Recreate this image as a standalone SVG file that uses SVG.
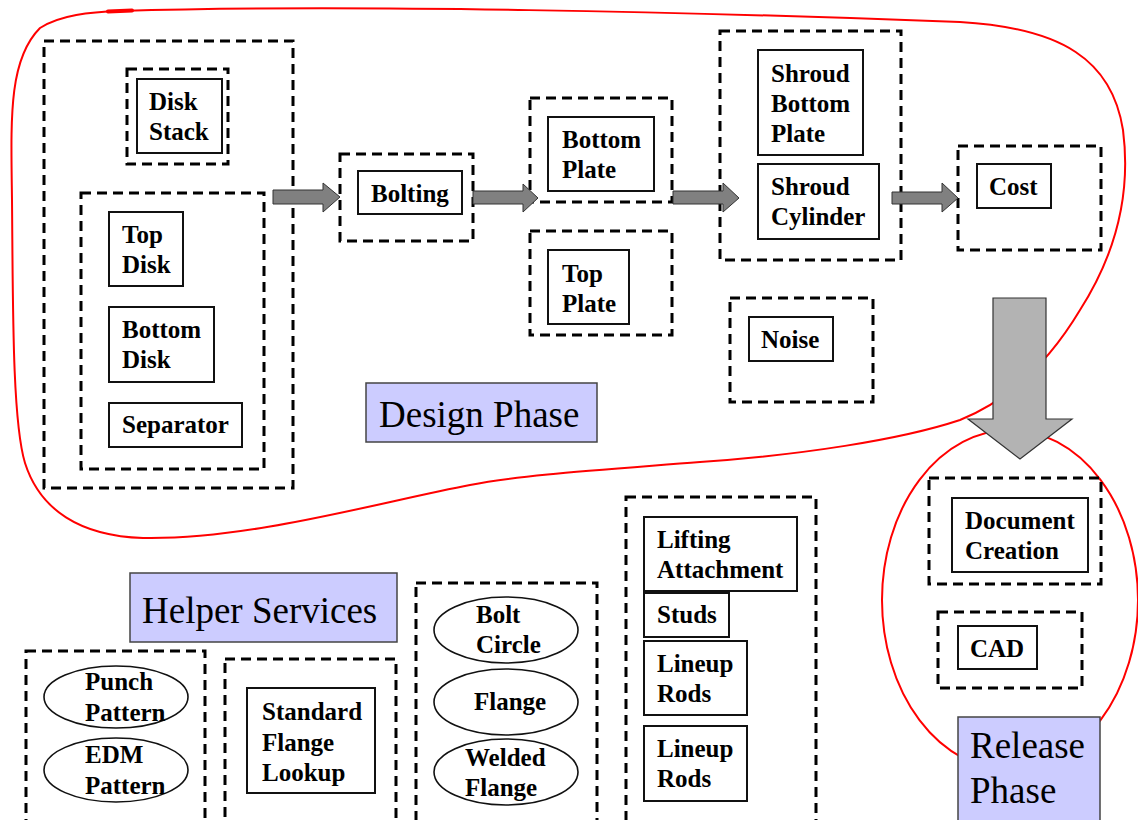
<svg xmlns="http://www.w3.org/2000/svg" width="1138" height="820" viewBox="0 0 1138 820">
  <style>
    .dash { fill: none; stroke: #000; stroke-width: 3; stroke-dasharray: 10 6; }
    .box { fill: #fff; stroke: #111; stroke-width: 2; }
    .oval { fill: #fff; stroke: #111; stroke-width: 1.6; }
    .t { font-family: "Liberation Serif", "Times New Roman", serif; font-weight: bold; font-size: 25px; fill: #000; }
    .phase { fill: #ccccff; stroke: #444; stroke-width: 1.5; }
    .pt { font-family: "Liberation Serif", "Times New Roman", serif; font-size: 37px; fill: #000; }
    .red { fill: none; stroke: #ff0000; stroke-width: 2; }
    .flow { fill: #808080; stroke: #333; stroke-width: 1; }
    .bigflow { fill: #b3b3b3; stroke: #333; stroke-width: 1.2; }
  </style>

  <!-- phase outlines -->
  <g id="outlines">
    <path class="red" d="M 120,11 C 350,4 700,12 960,22 C 1062,28 1112,60 1123,130 C 1132,200 1112,260 1080,310 C 1050,360 1010,400 960,420 C 900,440 800,455 700,462 C 600,470 520,475 470,485 C 380,502 250,540 143,538 C 80,536 40,510 25,463 C 12,420 13,300 12,200 C 11,120 8,60 40,28 C 60,15 90,12 120,11 Z"/>
    <path d="M 108,11.5 L 132,10.5" stroke="#ff0000" stroke-width="4" stroke-linecap="round" fill="none"/>
    <ellipse class="red" cx="1010" cy="600" rx="128" ry="170"/>
  </g>

  <!-- Design phase nodes -->
  <g id="disk-stack-group">
    <rect class="dash" x="44" y="41" width="249" height="447"/>
  </g>
  <g id="disk-stack">
    <rect class="dash" x="127" y="69" width="101" height="95"/>
    <rect class="box" x="137" y="79" width="85" height="74"/>
    <text class="t" x="149" y="110">Disk</text>
    <text class="t" x="149" y="140">Stack</text>
  </g>
  <g id="disk-parts">
    <rect class="dash" x="81" y="193" width="183" height="276"/>
  </g>
  <g id="top-disk">
    <rect class="box" x="109" y="212" width="74" height="74"/>
    <text class="t" x="122" y="243">Top</text>
    <text class="t" x="122" y="273">Disk</text>
  </g>
  <g id="bottom-disk">
    <rect class="box" x="109" y="307" width="105" height="75"/>
    <text class="t" x="122" y="338">Bottom</text>
    <text class="t" x="122" y="368">Disk</text>
  </g>
  <g id="separator">
    <rect class="box" x="109" y="403" width="133" height="44"/>
    <text class="t" x="122" y="433">Separator</text>
  </g>
  <g id="bolting">
    <rect class="dash" x="340" y="154" width="133" height="87"/>
    <rect class="box" x="358" y="171" width="104" height="43"/>
    <text class="t" x="371" y="202">Bolting</text>
  </g>
  <g id="bottom-plate">
    <rect class="dash" x="530" y="98" width="142" height="104"/>
    <rect class="box" x="548" y="117" width="106" height="74"/>
    <text class="t" x="562" y="148">Bottom</text>
    <text class="t" x="562" y="178">Plate</text>
  </g>
  <g id="top-plate">
    <rect class="dash" x="530" y="231" width="142" height="104"/>
    <rect class="box" x="548" y="250" width="81" height="74"/>
    <text class="t" x="562" y="282">Top</text>
    <text class="t" x="562" y="312">Plate</text>
  </g>
  <g id="shroud">
    <rect class="dash" x="720" y="31" width="181" height="229"/>
    <rect class="box" x="758" y="50" width="105" height="105"/>
    <text class="t" x="771" y="82">Shroud</text>
    <text class="t" x="771" y="112">Bottom</text>
    <text class="t" x="771" y="142">Plate</text>
    <rect class="box" x="758" y="164" width="121" height="75"/>
    <text class="t" x="771" y="195">Shroud</text>
    <text class="t" x="771" y="225">Cylinder</text>
  </g>
  <g id="cost">
    <rect class="dash" x="958" y="146" width="143" height="104"/>
    <rect class="box" x="977" y="164" width="74" height="44"/>
    <text class="t" x="989" y="195">Cost</text>
  </g>
  <g id="noise">
    <rect class="dash" x="730" y="298" width="143" height="104"/>
    <rect class="box" x="749" y="317" width="84" height="44"/>
    <text class="t" x="761" y="348">Noise</text>
  </g>
  <g id="design-phase-label">
    <rect class="phase" x="366" y="383" width="231" height="59"/>
    <text class="pt" x="379" y="427">Design Phase</text>
  </g>

  <!-- Release phase nodes -->
  <g id="document-creation">
    <rect class="dash" x="929" y="478" width="172" height="106"/>
    <rect class="box" x="952" y="498" width="136" height="74"/>
    <text class="t" x="965" y="529">Document</text>
    <text class="t" x="965" y="559">Creation</text>
  </g>
  <g id="cad">
    <rect class="dash" x="938" y="612" width="144" height="76"/>
    <rect class="box" x="958" y="626" width="79" height="43"/>
    <text class="t" x="970" y="657">CAD</text>
  </g>
  <g id="release-phase-label">
    <rect class="phase" x="958" y="717" width="142" height="120"/>
    <text class="pt" x="970" y="758">Release</text>
    <text class="pt" x="970" y="803">Phase</text>
  </g>

  <!-- Helper services -->
  <g id="helper-services-label">
    <rect class="phase" x="130" y="573" width="267" height="69"/>
    <text class="pt" x="142" y="623">Helper Services</text>
  </g>
  <g id="patterns">
    <rect class="dash" x="26" y="651" width="179" height="190"/>
    <ellipse class="oval" cx="116" cy="697" rx="72" ry="31"/>
    <text class="t" x="85" y="690">Punch</text>
    <text class="t" x="85" y="721">Pattern</text>
    <ellipse class="oval" cx="116" cy="770" rx="72" ry="32"/>
    <text class="t" x="85" y="763">EDM</text>
    <text class="t" x="85" y="794">Pattern</text>
  </g>
  <g id="standard-flange-lookup">
    <rect class="dash" x="225" y="659" width="171" height="180"/>
    <rect class="box" x="247" y="688" width="128" height="105"/>
    <text class="t" x="262" y="720">Standard</text>
    <text class="t" x="262" y="751">Flange</text>
    <text class="t" x="262" y="781">Lookup</text>
  </g>
  <g id="flanges">
    <rect class="dash" x="416" y="583" width="181" height="250"/>
    <ellipse class="oval" cx="506" cy="630" rx="72" ry="33"/>
    <text class="t" x="476" y="623">Bolt</text>
    <text class="t" x="476" y="653">Circle</text>
    <ellipse class="oval" cx="506" cy="702" rx="72" ry="33"/>
    <text class="t" x="474" y="710">Flange</text>
    <ellipse class="oval" cx="506" cy="772" rx="72" ry="33"/>
    <text class="t" x="465" y="766">Welded</text>
    <text class="t" x="465" y="796">Flange</text>
  </g>
  <g id="hardware">
    <rect class="dash" x="626" y="497" width="190" height="340"/>
    <rect class="box" x="644" y="517" width="153" height="74"/>
    <text class="t" x="657" y="548">Lifting</text>
    <text class="t" x="657" y="578">Attachment</text>
    <rect class="box" x="644" y="593" width="85" height="44"/>
    <text class="t" x="657" y="623">Studs</text>
    <rect class="box" x="644" y="641" width="103" height="74"/>
    <text class="t" x="657" y="672">Lineup</text>
    <text class="t" x="657" y="702">Rods</text>
    <rect class="box" x="644" y="726" width="103" height="75"/>
    <text class="t" x="657" y="757">Lineup</text>
    <text class="t" x="657" y="787">Rods</text>
  </g>

  <!-- connectors -->
  <g id="connectors">
    <polygon class="flow" points="273,190 323,190 323,183 340,197 323,212 323,204 273,204"/>
    <polygon class="flow" points="473,191 523,191 523,184 538,198 523,212 523,204 473,204"/>
    <polygon class="flow" points="673,191 723,191 723,183 739,198 723,212 723,204 673,204"/>
    <polygon class="flow" points="892,192 942,192 942,183 958,198 942,212 942,204 892,204"/>
    <polygon class="bigflow" points="993,298 1046,298 1046,419 1072,419 1020,459 968,419 993,419"/>
  </g>
</svg>
